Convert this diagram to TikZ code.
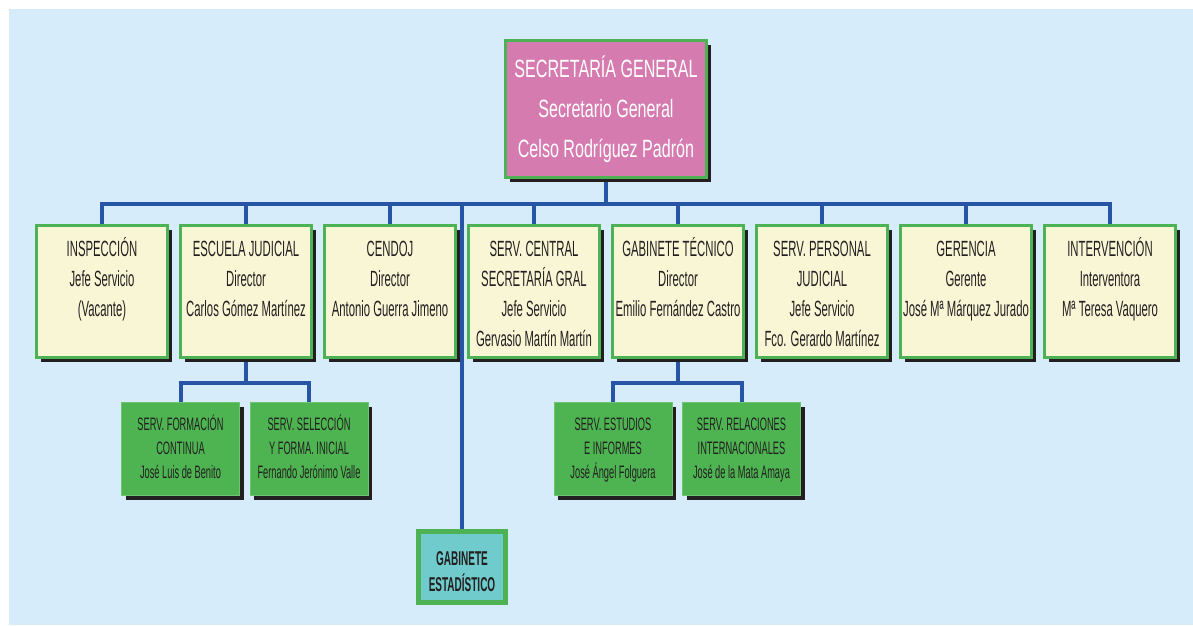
\documentclass[tikz,border=0pt]{standalone}
\usepackage{fontspec}
\setmainfont{Liberation Sans}
% condensed faces for the chart labels
\newfontfamily\cnd{Liberation Sans}[FakeStretch=0.515]
\newfontfamily\cndtop{Liberation Sans}[FakeStretch=0.644]
\newfontfamily\cndbold{Liberation Sans}[FakeStretch=0.5]
\usetikzlibrary{shadows}

\definecolor{skyback}{RGB}{214,236,250}
\definecolor{wire}{RGB}{40,84,166}
\definecolor{frame}{RGB}{77,178,84}
\definecolor{cream}{RGB}{249,246,214}
\definecolor{rose}{RGB}{214,123,176}
\definecolor{leaf}{RGB}{78,180,82}
\definecolor{leafedge}{RGB}{110,196,112}
\definecolor{teal}{RGB}{112,204,204}
\definecolor{ink}{RGB}{35,31,32}

\newcommand{\stack}[1]{\begin{tabular}[t]{@{}c@{}}#1\end{tabular}}

\pgfdeclarelayer{backdrop}
\pgfdeclarelayer{wires}
\pgfsetlayers{backdrop,wires,main}

\begin{document}
\begin{tikzpicture}[x=1pt,y=-1pt,
  conn/.style={draw=wire, line width=4pt, line cap=rect},
  shd/.style={general shadow={shadow xshift=4pt, shadow yshift=-4.5pt, fill=ink}},
  anybox/.style={rectangle, inner sep=0pt, outer sep=0pt, minimum height=0pt, text=ink},
  headbox/.style={anybox, shd, draw=frame, line width=3pt, fill=rose, text=white,
    minimum width=201pt, text height=36.5pt, text depth=100.5pt,
    font=\cndtop\fontsize{25}{40}\selectfont},
  unitbox/.style={anybox, shd, draw=frame, line width=3pt, fill=cream,
    minimum width=131pt, text height=30.5pt, text depth=101.5pt,
    font=\cnd\fontsize{22}{30}\selectfont},
  subbox/.style={anybox, shd, draw=leafedge, line width=1pt, fill=leaf,
    minimum width=118pt, text height=27.5pt, text depth=65.5pt,
    font=\cnd\fontsize{18}{24}\selectfont},
  statbox/.style={anybox, draw=frame, line width=5pt, fill=teal,
    minimum width=87pt, text height=33.5pt, text depth=37.5pt,
    font=\cndbold\bfseries\fontsize{20}{26}\selectfont}
]
\useasboundingbox (0,0) rectangle (1193,625);
\begin{pgfonlayer}{backdrop}
  \fill[white] (0,0) rectangle (1193,625);
  \fill[skyback] (9,9) rectangle (1193,625);
\end{pgfonlayer}

% head of the chart
\node[headbox] (sg) at (606,109)
  {\stack{SECRETARÍA GENERAL\\Secretario General\\Celso Rodríguez Padrón}};

% second level
\node[unitbox] (insp)   at (102,291.5) {\stack{INSPECCIÓN\\Jefe Servicio\\(Vacante)}};
\node[unitbox] (esc)    at (246,291.5) {\stack{ESCUELA JUDICIAL\\Director\\Carlos Gómez Martínez}};
\node[unitbox] (cendoj) at (390,291.5) {\stack{CENDOJ\\Director\\Antonio Guerra Jimeno}};
\node[unitbox] (scsg)   at (534,291.5) {\stack{SERV. CENTRAL\\SECRETARÍA GRAL\\Jefe Servicio\\Gervasio Martín Martín}};
\node[unitbox] (gabt)   at (678,291.5) {\stack{GABINETE TÉCNICO\\Director\\Emilio Fernández Castro}};
\node[unitbox] (spj)    at (822,291.5) {\stack{SERV. PERSONAL\\JUDICIAL\\Jefe Servicio\\Fco. Gerardo Martínez}};
\node[unitbox] (ger)    at (966,291.5) {\stack{GERENCIA\\Gerente\\José Mª Márquez Jurado}};
\node[unitbox] (interv) at (1110,291.5) {\stack{INTERVENCIÓN\\Interventora\\Mª Teresa Vaquero}};

% third level
\node[subbox] (form) at (180.5,449) {\stack{SERV. FORMACIÓN\\CONTINUA\\José Luis de Benito}};
\node[subbox] (sel)  at (309,449)   {\stack{SERV. SELECCIÓN\\Y FORMA. INICIAL\\Fernando Jerónimo Valle}};
\node[subbox] (est)  at (613,449)   {\stack{SERV. ESTUDIOS\\E INFORMES\\José Ángel Folguera}};
\node[subbox] (rel)  at (741.5,449) {\stack{SERV. RELACIONES\\INTERNACIONALES\\José de la Mata Amaya}};

\node[statbox] (gabe) at (462,567) {\stack{GABINETE\\ESTADÍSTICO}};

% connectors
\coordinate (bus) at (0,204);
\coordinate (jesc) at (246,383);
\coordinate (jgab) at (678,383);
\begin{pgfonlayer}{wires}
  \draw[conn] (sg.south) -- (sg.south |- bus);
  \draw[conn] (insp.north |- bus) -- (interv.north |- bus);
  \foreach \n in {insp,esc,cendoj,scsg,gabt,spj,ger,interv,gabe}
    \draw[conn] (\n.north |- bus) -- (\n.north);
  \draw[conn] (esc.south) -- (jesc);
  \draw[conn] (form.north) |- (jesc) -| (sel.north);
  \draw[conn] (gabt.south) -- (jgab);
  \draw[conn] (est.north) |- (jgab) -| (rel.north);
\end{pgfonlayer}
\end{tikzpicture}
\end{document}
